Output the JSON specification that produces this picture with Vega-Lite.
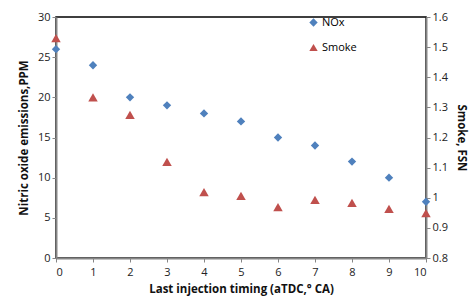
{
  "$schema": "https://vega.github.io/schema/vega-lite/v6.json",
  "autosize": "none",
  "width": 370,
  "height": 241,
  "padding": {"left": 56, "top": 17, "right": 48, "bottom": 43},
  "background": "white",
  "config": {
    "font": "Open Sans",
    "view": {"stroke": "#000000", "strokeWidth": 1.5},
    "axis": {"grid": false, "domainColor": "#868686", "domainWidth": 2, "tickColor": "#868686", "tickSize": 4, "labelFontSize": 11, "labelColor": "#222", "titleFontSize": 11.5, "titleFontWeight": "bold", "titleColor": "#111"}
  },
  "data": {"values": [
    {"x": 0, "nox": 26, "smoke": 1.53},
    {"x": 1, "nox": 24, "smoke": 1.333},
    {"x": 2, "nox": 20, "smoke": 1.275},
    {"x": 3, "nox": 19, "smoke": 1.119},
    {"x": 4, "nox": 18, "smoke": 1.019},
    {"x": 5, "nox": 17, "smoke": 1.006},
    {"x": 6, "nox": 15, "smoke": 0.969},
    {"x": 7, "nox": 14, "smoke": 0.993},
    {"x": 8, "nox": 12, "smoke": 0.983},
    {"x": 9, "nox": 10, "smoke": 0.963},
    {"x": 10, "nox": 7, "smoke": 0.949}
  ]},
  "encoding": {
    "x": {"field": "x", "type": "quantitative", "scale": {"domain": [0, 10], "nice": false},
      "axis": {"values": [0,1,2,3,4,5,6,7,8,9,10], "title": "Last injection timing (aTDC,\u00b0 CA)", "titlePadding": 6, "labelPadding": 4}}
  },
  "layer": [
    {
      "mark": {"type": "point", "filled": true, "opacity": 1, "size": 70},
      "encoding": {
        "y": {"field": "nox", "type": "quantitative", "scale": {"domain": [0, 30], "nice": false},
          "axis": {"values": [0,5,10,15,20,25,30], "title": "Nitric oxide emissions,PPM", "orient": "left", "titlePadding": 8}},
        "color": {"datum": "NOx", "type": "nominal", "scale": {"domain": ["NOx", "Smoke"], "range": ["#4F81BD", "#C0504D"]},
          "legend": {"orient": "none", "legendX": 252, "legendY": 0, "title": null, "labelFontSize": 11, "rowPadding": 13, "symbolSize": 70, "labelOffset": 3}},
        "shape": {"datum": "NOx", "type": "nominal", "scale": {"domain": ["NOx", "Smoke"], "range": ["diamond", "triangle-up"]},
          "legend": {"orient": "none", "legendX": 252, "legendY": 0, "title": null, "labelFontSize": 11, "rowPadding": 13, "symbolSize": 70, "labelOffset": 3}}
      }
    },
    {
      "mark": {"type": "point", "filled": true, "opacity": 1, "size": 90},
      "encoding": {
        "y": {"field": "smoke", "type": "quantitative", "scale": {"domain": [0.8, 1.6], "nice": false},
          "axis": {"values": [0.8,0.9,1.0,1.1,1.2,1.3,1.4,1.5,1.6], "format": "~g", "title": "Smoke, FSN", "orient": "right", "titlePadding": 8}},
        "color": {"datum": "Smoke", "type": "nominal"},
        "shape": {"datum": "Smoke", "type": "nominal"}
      }
    }
  ],
  "resolve": {"scale": {"y": "independent"}}
}
